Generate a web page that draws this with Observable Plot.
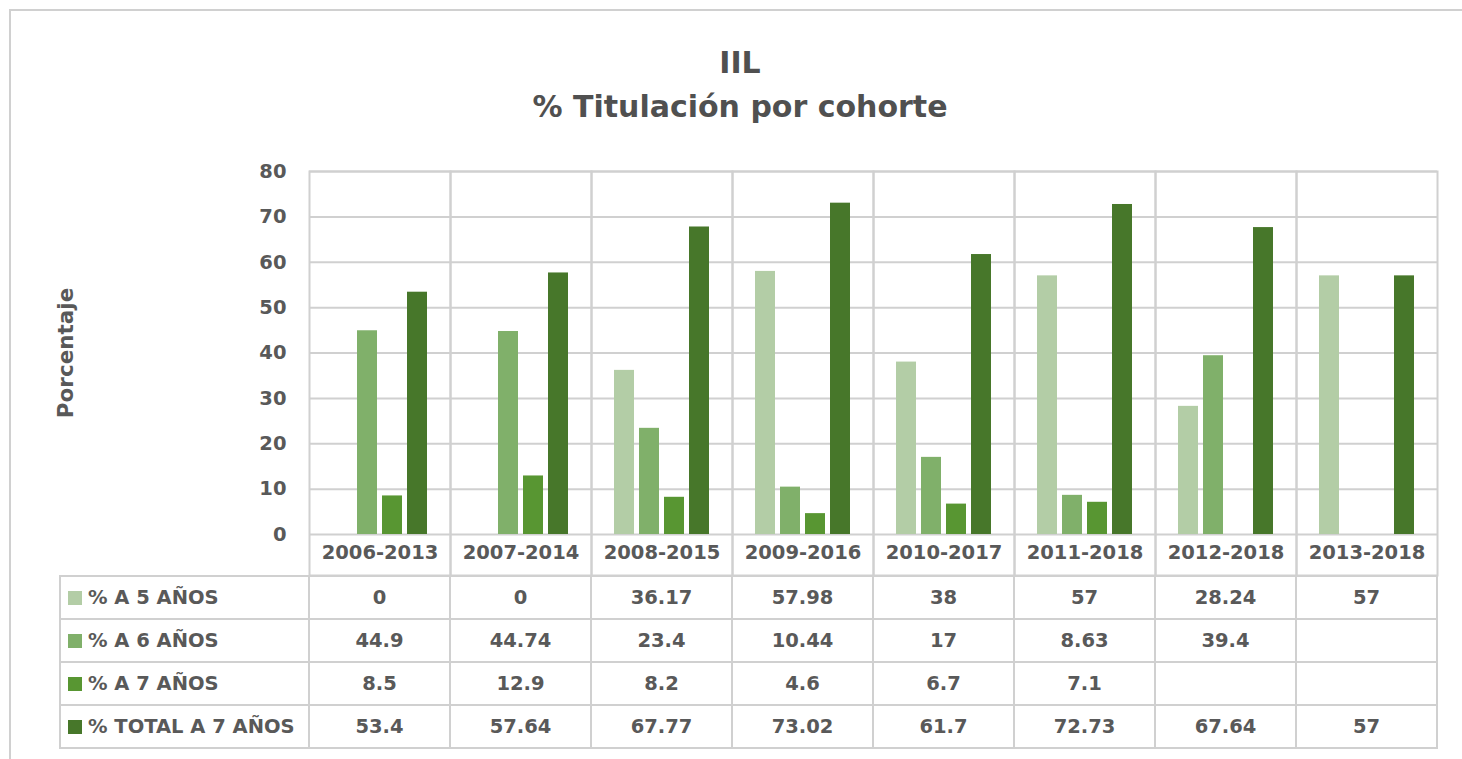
<!DOCTYPE html>
<html>
<head>
<meta charset="utf-8">
<script src="https://cdn.jsdelivr.net/npm/d3@7"></script>
<script src="https://cdn.jsdelivr.net/npm/@observablehq/plot@0.6"></script>
<style>
  html, body { margin: 0; padding: 0; background: #fff; }
  #wrap { position: relative; width: 1462px; height: 759px; overflow: hidden; font-family: "DejaVu Sans", sans-serif; font-weight: bold; color: #595959; }
  #border { position: absolute; left: 9px; top: 9px; width: 1500px; height: 800px; border-top: 2px solid #d0d0d0; border-left: 2px solid #d0d0d0; }
  #title { position: absolute; left: 440px; width: 600px; top: 41px; text-align: center; font-size: 30px; line-height: 44px; color: #505050; }
  #chart { position: absolute; left: 0; top: 150px; }
  #chart g[aria-label="y-axis label"] text { font-size: 21.5px; }
  #table { position: absolute; left: 59px; top: 575px; border-collapse: collapse; table-layout: fixed; font-size: 19.5px; }
  #table td { border: 2px solid #d0d0d0; height: 41px; padding: 0; text-align: center; white-space: nowrap; overflow: hidden; }
  #table td.lab { text-align: left; padding-left: 7px; }
  .sw { display: inline-block; width: 14px; height: 14px; margin-right: 6px; vertical-align: -1px; }
</style>
</head>
<body>
<div id="wrap">
  <div id="border"></div>
  <div id="title">IIL<br>% Titulación por cohorte</div>
  <div id="chart"></div>
  <table id="table"></table>
</div>
<script>
const cohorts = ["2006-2013", "2007-2014", "2008-2015", "2009-2016", "2010-2017", "2011-2018", "2012-2018", "2013-2018"];
const series = ["% A 5 AÑOS", "% A 6 AÑOS", "% A 7 AÑOS", "% TOTAL A 7 AÑOS"];
const a5 = [0, 0, 36.17, 57.98, 38, 57, 28.24, 57];
const a6 = [44.9, 44.74, 23.4, 10.44, 17, 8.63, 39.4, null];
const a7 = [8.5, 12.9, 8.2, 4.6, 6.7, 7.1, null, null];
const total = [53.4, 57.64, 67.77, 73.02, 61.7, 72.73, 67.64, 57];
const colors = ["#b3cda6", "#80b06a", "#589632", "#47772a"];
const yTicks = [0, 10, 20, 30, 40, 50, 60, 70, 80];

const seriesValues = [a5, a6, a7, total];
const data = cohorts.flatMap((c, i) =>
  series.map((s, j) => ({cohort: c, series: s, value: seriesValues[j][i]}))
).filter(d => d.value != null);

const W = 1462, ML = 308, MR = 24;
const chart = Plot.plot({
  width: W,
  height: 430,
  marginLeft: ML,
  marginRight: MR,
  marginTop: 21,
  marginBottom: 46,
  style: {fontFamily: "DejaVu Sans, sans-serif", fontSize: "19.5px", fontWeight: "bold", color: "#595959", background: "transparent", overflow: "visible"},
  fx: {domain: cohorts, padding: 0, axis: "bottom", tickSize: 0, tickPadding: 11, label: null},
  x: {domain: series, axis: null, paddingInner: 0.21, paddingOuter: 0.82},
  y: {domain: [0, 80], ticks: yTicks, tickSize: 0, tickPadding: 23, label: "Porcentaje", labelArrow: "none", labelAnchor: "center", labelOffset: 252},
  color: {domain: series, range: colors},
  marks: [
    Plot.ruleY(yTicks, {stroke: "#d0d0d0", strokeWidth: 2}),
    Plot.frame({stroke: "#d0d0d0", strokeWidth: 2, insetBottom: -41}),
    Plot.barY(data, {fx: "cohort", x: "series", y: "value", fill: "series"})
  ]
});
document.getElementById("chart").appendChild(chart);

// data table below the chart, aligned with the fx scale bands
const fxs = chart.scale("fx");
const colW = fxs.bandwidth ?? (W - ML - MR) / cohorts.length;
const table = document.getElementById("table");
const cg = document.createElement("colgroup");
const c0 = document.createElement("col"); c0.style.width = (ML - 59) + "px"; cg.appendChild(c0);
cohorts.forEach(() => { const c = document.createElement("col"); c.style.width = colW + "px"; cg.appendChild(c); });
table.appendChild(cg);
table.style.width = (ML - 59 + colW * cohorts.length) + "px";
series.forEach((s, j) => {
  const tr = document.createElement("tr");
  const lab = document.createElement("td");
  lab.className = "lab";
  const sw = document.createElement("span");
  sw.className = "sw"; sw.style.background = colors[j];
  lab.appendChild(sw);
  lab.appendChild(document.createTextNode(s));
  tr.appendChild(lab);
  cohorts.forEach((c, i) => {
    const td = document.createElement("td");
    const v = seriesValues[j][i];
    td.textContent = v == null ? "" : String(v);
    tr.appendChild(td);
  });
  table.appendChild(tr);
});
</script>
</body>
</html>
